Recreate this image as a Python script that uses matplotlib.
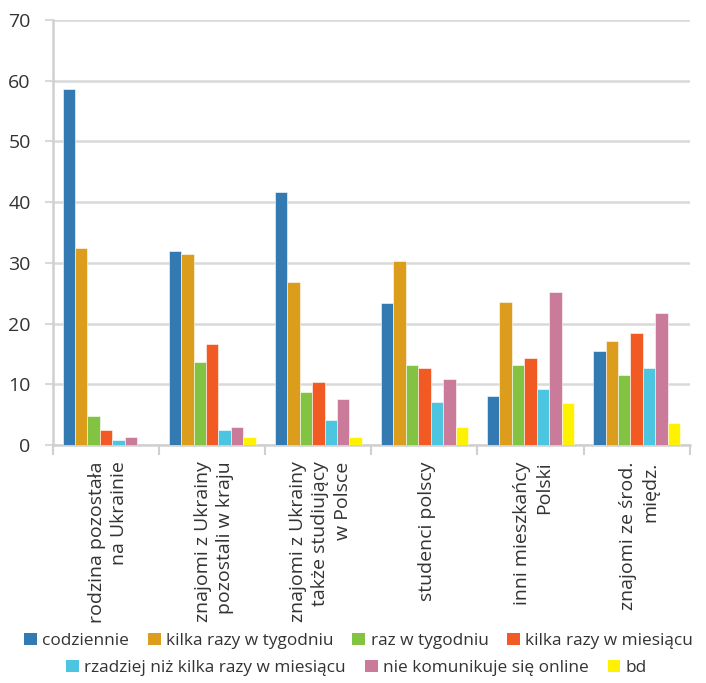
import numpy as np
import matplotlib.pyplot as plt
from matplotlib.patches import Patch

plt.rcParams["font.family"] = ["Open Sans", "DejaVu Sans"]

categories = [
    "rodzina pozostała\nna Ukrainie",
    "znajomi z Ukrainy\npozostali w kraju",
    "znajomi z Ukrainy\ntakże studiujący\nw Polsce",
    "studenci polscy",
    "inni mieszkańcy\nPolski",
    "znajomi ze środ.\nmiędz.",
]
series_names = [
    "codziennie",
    "kilka razy w tygodniu",
    "raz w tygodniu",
    "kilka razy w miesiącu",
    "rzadziej niż kilka razy w miesiącu",
    "nie komunikuje się online",
    "bd",
]
codziennie = [58.7, 32.0, 41.6, 23.4, 8.1, 15.5]
kilka_tydz = [32.5, 31.4, 26.9, 30.3, 23.5, 17.2]
raz_tydz = [4.7, 13.7, 8.7, 13.2, 13.2, 11.5]
kilka_mies = [2.5, 16.6, 10.3, 12.6, 14.4, 18.4]
rzadziej = [0.8, 2.5, 4.1, 7.0, 9.2, 12.7]
nie_online = [1.3, 3.0, 7.5, 10.9, 25.2, 21.7]
bd = [0.0, 1.3, 1.3, 3.0, 6.9, 3.6]
values = [codziennie, kilka_tydz, raz_tydz, kilka_mies, rzadziej, nie_online, bd]
colors = ["#3379b2", "#dc9c1c", "#82c341", "#f15a22", "#4cc5e0", "#c97b99", "#fff200"]

fig = plt.figure(figsize=(7.06, 6.83), dpi=100)
ax = fig.add_axes([0.075, 0.3485, 0.902, 0.6222])

x = np.arange(len(categories))
n = len(values)
width = 0.82 / n
for i, (vals, col) in enumerate(zip(values, colors)):
    ax.bar(x - 0.41 + width * (i + 0.5), vals, width, color=col,
           edgecolor="white", linewidth=0.4, zorder=3)

ax.set_xlim(-0.5, len(categories) - 0.5)
ax.set_ylim(0, 70)
ax.set_yticks(np.arange(0, 71, 10))
ax.yaxis.grid(True, color="#d9d9d9", linewidth=1.8, zorder=0)
ax.tick_params(axis="y", length=6, width=1.5, color="#d9d9d9", labelsize=14,
               pad=10, labelcolor="#333333")

# category labels at centres, tick marks at boundaries
ax.set_xticks(np.arange(len(categories) + 1) - 0.5)
ax.set_xticklabels([])
ax.tick_params(axis="x", length=7, width=1.5, color="#d0d0d0")
for xi, lab in zip(x, categories):
    ax.text(xi + 0.02, -2.7, lab, rotation=90, ha="center", va="top",
            multialignment="right", fontsize=14, linespacing=1.3, color="#333333")

for side in ["top", "right"]:
    ax.spines[side].set_visible(False)
for side in ["left", "bottom"]:
    ax.spines[side].set_color("#d0d0d0")
    ax.spines[side].set_linewidth(1.8)

handles = [Patch(facecolor=c, edgecolor="none") for c in colors]
leg_kw = dict(frameon=False, fontsize=12.4, handlelength=0.75, handleheight=0.75,
              handletextpad=0.3, columnspacing=1.1, borderpad=0, labelcolor="#333333")
fig.legend(handles[:4], series_names[:4], loc="center", ncol=4,
           bbox_to_anchor=(0.508, 1 - 641 / 683), **leg_kw)
fig.legend(handles[4:], series_names[4:], loc="center", ncol=3,
           bbox_to_anchor=(0.505, 1 - 668 / 683), **leg_kw)

fig.savefig("out.png", dpi=100)
